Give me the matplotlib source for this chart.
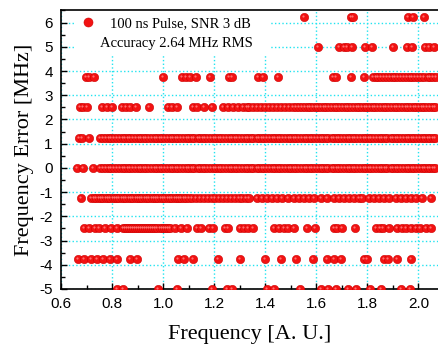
import matplotlib
matplotlib.use("Agg")
import matplotlib.pyplot as plt
import matplotlib.transforms as mtransforms
from matplotlib.ticker import MultipleLocator, FormatStrFormatter
from matplotlib.lines import Line2D

# frequency error levels (MHz) and the x positions of the points on each level
row_p625 = [1.051, 1.552, 1.735, 1.744, 1.960, 1.979, 2.022]
row_p500 = [1.608, 1.689, 1.709, 1.722, 1.739, 1.791, 1.820, 1.901, 1.957, 1.977,
            2.026, 2.042, 2.062]
row_p375 = [0.698, 0.711, 0.729, 0.998, 1.073, 1.090, 1.105, 1.129, 1.184, 1.259,
            1.269, 1.373, 1.392, 1.449, 1.666, 1.679, 1.735, 1.787, 1.822, 1.833,
            1.843, 1.853, 1.866, 1.878, 1.888, 1.899, 1.910, 1.921, 1.932, 1.943,
            1.955, 1.966, 1.977, 1.988, 2.000, 2.012, 2.024, 2.036, 2.047, 2.058,
            2.068]
row_p250 = [0.674, 0.687, 0.701, 0.759, 0.779, 0.799, 0.838, 0.855, 0.870, 0.894,
            0.946, 1.020, 1.034, 1.053, 1.116, 1.132, 1.160, 1.190, 1.236, 1.256,
            1.275, 1.295, 1.314, 1.330, 1.337, 1.352, 1.368, 1.385, 1.398, 1.414,
            1.431, 1.447, 1.462, 1.479, 1.493, 1.510, 1.522, 1.534, 1.545, 1.556,
            1.566, 1.577, 1.588, 1.598, 1.608, 1.619, 1.630, 1.640, 1.651, 1.662,
            1.672, 1.683, 1.694, 1.704, 1.715, 1.726, 1.736, 1.747, 1.758, 1.768,
            1.779, 1.790, 1.800, 1.811, 1.822, 1.832, 1.843, 1.854, 1.864, 1.875,
            1.886, 1.896, 1.907, 1.918, 1.928, 1.939, 1.950, 1.960, 1.971, 1.982,
            1.992, 2.003, 2.014, 2.024, 2.035, 2.046, 2.056, 2.066]

# dense run shared by the 0 and +1.25 levels
dense_run = [0.753, 0.765, 0.776, 0.788, 0.797, 0.809, 0.818, 0.830, 0.841, 0.850,
             0.862, 0.871, 0.883, 0.892, 0.904, 0.913, 0.925, 0.934, 0.946, 0.955,
             0.967, 0.976, 0.988, 0.997, 1.009, 1.018, 1.030, 1.039, 1.051, 1.060,
             1.072, 1.081, 1.093, 1.102, 1.114, 1.123, 1.135, 1.144, 1.156, 1.165,
             1.177, 1.186, 1.198, 1.207, 1.219, 1.228, 1.240, 1.249, 1.261, 1.270,
             1.282, 1.291, 1.303, 1.312, 1.324, 1.333, 1.345, 1.354, 1.366, 1.375,
             1.387, 1.396, 1.408, 1.417, 1.429, 1.438, 1.450, 1.459, 1.471, 1.480,
             1.492, 1.501, 1.513, 1.522, 1.534, 1.543, 1.555, 1.564, 1.576, 1.585,
             1.597, 1.606, 1.618, 1.627, 1.639, 1.648, 1.660, 1.669, 1.681, 1.690,
             1.702, 1.711, 1.723, 1.732, 1.744, 1.753, 1.765, 1.774, 1.786, 1.795,
             1.807, 1.816, 1.828, 1.837, 1.849, 1.858, 1.870, 1.879, 1.891, 1.900,
             1.912, 1.921, 1.933, 1.942, 1.954, 1.963, 1.975, 1.984, 1.996, 2.005,
             2.017, 2.026, 2.038, 2.047, 2.059, 2.066]
row_p125 = [0.671, 0.681, 0.710] + dense_run
row_000 = [0.661, 0.687, 0.727] + dense_run

row_m125 = [0.677, 0.716, 0.728, 0.738, 0.748, 0.757, 0.766, 0.775, 0.784, 0.793,
            0.802, 0.811, 0.820, 0.829, 0.838, 0.847, 0.856, 0.865, 0.874, 0.883,
            0.892, 0.901, 0.910, 0.919, 0.928, 0.937, 0.946, 0.955, 0.964, 0.973,
            0.982, 0.991, 1.000, 1.009, 1.018, 1.027, 1.036, 1.045, 1.054, 1.063,
            1.072, 1.081, 1.090, 1.100, 1.115, 1.130, 1.146, 1.160, 1.176, 1.190,
            1.205, 1.220, 1.236, 1.250, 1.265, 1.280, 1.296, 1.310, 1.324, 1.337,
            1.369, 1.389, 1.408, 1.428, 1.448, 1.467, 1.491, 1.513, 1.533, 1.552,
            1.572, 1.591, 1.618, 1.644, 1.670, 1.689, 1.709, 1.729, 1.748, 1.768,
            1.781, 1.807, 1.826, 1.846, 1.866, 1.885, 1.912, 1.931, 1.951, 1.970,
            1.990, 2.016, 2.049]
row_m250 = [0.690, 0.711, 0.733, 0.750, 0.772, 0.795, 0.818, 0.842, 0.850, 0.858,
            0.866, 0.874, 0.882, 0.890, 0.898, 0.906, 0.914, 0.922, 0.930, 0.938,
            0.946, 0.954, 0.962, 0.970, 0.978, 0.986, 0.994, 1.002, 1.010, 1.018,
            1.027, 1.047, 1.069, 1.093, 1.134, 1.147, 1.181, 1.194, 1.243, 1.256,
            1.301, 1.317, 1.334, 1.352, 1.435, 1.454, 1.474, 1.491, 1.513, 1.565,
            1.595, 1.670, 1.683, 1.700, 1.752, 1.836, 1.849, 1.862, 1.885, 1.918,
            1.935, 1.953, 1.970, 1.990, 2.006, 2.029, 2.049]
row_m375 = [0.668, 0.690, 0.716, 0.742, 0.766, 0.792, 0.821, 0.870, 0.897, 1.060,
            1.082, 1.118, 1.216, 1.301, 1.399, 1.461, 1.520, 1.587, 1.644, 1.670,
            1.696, 1.787, 1.800, 1.866, 1.883, 1.918, 1.970]
row_m500 = [0.821, 0.842, 0.981, 1.056, 1.190, 1.249, 1.269, 1.408, 1.435, 1.538,
            1.618, 1.648, 1.676, 1.726, 1.755, 1.810, 1.853, 1.931, 1.966]

levels = [6.25, 5.0, 3.75, 2.5, 1.25, 0.0, -1.25, -2.5, -3.75, -5.0]
rows = [row_p625, row_p500, row_p375, row_p250, row_p125, row_000,
        row_m125, row_m250, row_m375, row_m500]

legend_line1 = "100 ns Pulse, SNR 3 dB"
legend_line2 = "Accuracy 2.64 MHz RMS"

plt.rcParams['axes.unicode_minus'] = False

fig = plt.figure(figsize=(4.39, 3.45), dpi=100)
ax = fig.add_axes([61 / 439, 56 / 345, 378 / 439, 279 / 345])

xs = []
ys = []
for lvl, r in zip(levels, rows):
    xs += r
    ys += [lvl] * len(r)

# red balls with a faint highlight
ax.scatter(xs, ys, s=36, color='#f21212', edgecolors='#d00000', linewidths=0.4,
           zorder=3)
hl = mtransforms.ScaledTranslation(-1.0 / 100, 1.0 / 100, fig.dpi_scale_trans)
ax.scatter(xs, ys, s=2.5, color='#ff7070', linewidths=0, zorder=4,
           transform=ax.transData + hl)

ax.set_xlim(0.6, 2.081)
ax.set_ylim(-5, 6.52)

ax.xaxis.set_major_locator(MultipleLocator(0.2))
ax.xaxis.set_minor_locator(MultipleLocator(0.1))
ax.yaxis.set_major_locator(MultipleLocator(1))
ax.yaxis.set_minor_locator(MultipleLocator(0.5))
ax.xaxis.set_major_formatter(FormatStrFormatter('%.1f'))
ax.yaxis.set_major_formatter(FormatStrFormatter('%d'))

ax.grid(True, which='major', color='#22e4f0', linestyle=':', linewidth=1.0)
ax.set_axisbelow(True)

ax.tick_params(which='both', direction='in', top=False, right=False, width=1.0)
ax.tick_params(which='major', length=4.5, pad=6)
ax.tick_params(which='minor', length=3)
for lab in ax.get_xticklabels() + ax.get_yticklabels():
    lab.set_fontfamily('Liberation Sans')
    lab.set_fontsize(11)

for side in ['left', 'bottom', 'top']:
    ax.spines[side].set_linewidth(1.2)
ax.spines['right'].set_visible(False)

ax.set_xlabel('Frequency [A. U.]', fontfamily='Liberation Serif', fontsize=16,
              labelpad=10)
ax.set_ylabel('Frequency Error [MHz]', fontfamily='Liberation Serif', fontsize=16,
              labelpad=4)

h1 = Line2D([], [], linestyle='none', marker='o', markersize=6.5,
            markerfacecolor='#f21212', markeredgecolor='#d00000',
            markeredgewidth=0.4)
h2 = Line2D([], [], linestyle='none')
leg = ax.legend([h1, h2], [legend_line1, legend_line2], loc='upper left',
                bbox_to_anchor=(0.035, 1.0), borderaxespad=0.05,
                prop={'family': 'Liberation Serif', 'size': 10.5},
                frameon=True, fancybox=False, framealpha=1, edgecolor='none',
                facecolor='white', handlelength=1.0, handletextpad=1.0,
                labelspacing=0.45, borderpad=0.4)
leg.set_zorder(10)
leg.get_texts()[1].set_x(-10)

fig.savefig('out.png', dpi=100)
